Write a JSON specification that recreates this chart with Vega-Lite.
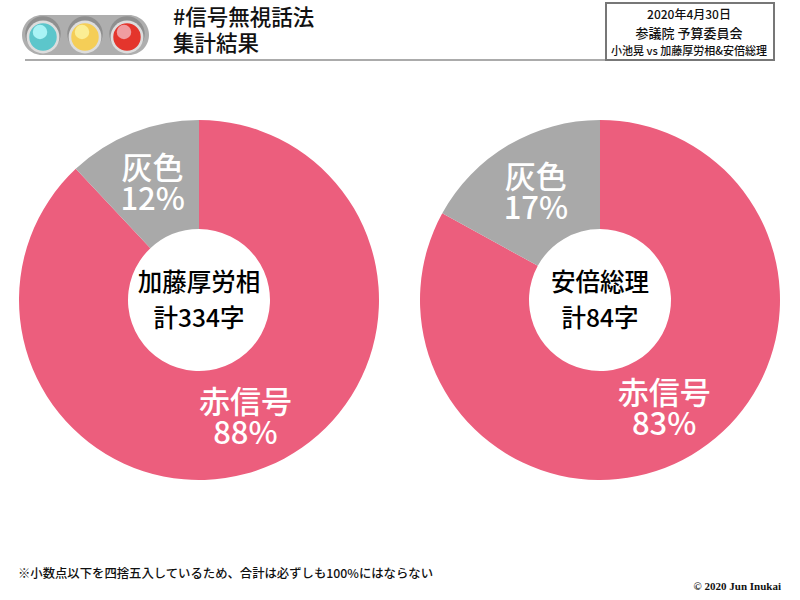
{
"$schema":"https://vega.github.io/schema/vega-lite/v6.json",
"padding":0,
"spacing":0,
"background":"white",
"config":{"view":{"stroke":null},"font":"Noto Sans CJK JP"},
"datasets":{
 "lights":[{"signal":"青","body":"#5CC6CB","shine":"#A9F3F5"},{"signal":"黄","body":"#F5CE57","shine":"#FBEE95"},{"signal":"赤","body":"#E4352C","shine":"#F09CA0"}],
 "title":[{"line":"#信号無視話法"},{"line":"集計結果"}],
 "box":[{"line":"2020年4月30日","size":"s"},{"line":"参議院 予算委員会","size":"m"},{"line":"小池晃 vs 加藤厚労相&安倍総理","size":"l"}],
 "notes":[{"kind":"note","text":"※小数点以下を四捨五入しているため、合計は必ずしも100%にはならない"},{"kind":"copy","text":"© 2020 Jun Inukai"}],
 "shares":[
  {"minister":"加藤厚労相","signal":"赤信号","share":88,"label":"赤信号\n88%"},
  {"minister":"加藤厚労相","signal":"灰色","share":12,"label":"灰色\n12%"},
  {"minister":"安倍総理","signal":"赤信号","share":83,"label":"赤信号\n83%"},
  {"minister":"安倍総理","signal":"灰色","share":17,"label":"灰色\n17%"}],
 "centers":[{"minister":"加藤厚労相","center":"加藤厚労相\n計334字"},{"minister":"安倍総理","center":"安倍総理\n計84字"}]
},
"vconcat":[
 {"width":800,"height":61,
  "resolve":{"scale":{"x":"independent","y":"independent","size":"independent","color":"independent"}},
  "layer":[
   {"data":{"values":[{"a":1}]},"mark":{"type":"rule","stroke":"#ABABAB","strokeWidth":2},
    "encoding":{"x":{"datum":25,"type":"quantitative","scale":{"domain":[0,800],"range":[0,800]},"axis":null},"x2":{"datum":606},"y":{"datum":60,"type":"quantitative","scale":{"domain":[0,61],"range":[0,61]},"axis":null}}},
   {"data":{"values":[{"a":1}]},"mark":{"type":"rect","fill":"white","stroke":"#777777","strokeWidth":2},
    "encoding":{"x":{"datum":606,"type":"quantitative","scale":{"domain":[0,800],"range":[0,800]},"axis":null},"x2":{"datum":774},"y":{"datum":3,"type":"quantitative","scale":{"domain":[0,61],"range":[0,61]},"axis":null},"y2":{"datum":60}}},
   {"data":{"values":[{"a":1}]},"mark":{"type":"rect","fill":"#AEAEAE","cornerRadius":20},
    "encoding":{"x":{"datum":22,"type":"quantitative","scale":{"domain":[0,800],"range":[0,800]},"axis":null},"x2":{"datum":149},"y":{"datum":15,"type":"quantitative","scale":{"domain":[0,61],"range":[0,61]},"axis":null},"y2":{"datum":55}}},
   {"data":{"name":"lights"},"mark":{"type":"circle","fill":"#8F8F8F","opacity":1,"size":1257},
    "encoding":{"x":{"field":"signal","type":"nominal","sort":null,"scale":{"type":"point","padding":0,"range":[43,127]},"axis":null},"y":{"datum":"c","type":"nominal","scale":{"type":"point","padding":0,"range":[34,34]},"axis":null}}},
   {"data":{"name":"lights"},"mark":{"type":"circle","fill":"#DDDDDD","opacity":1,"size":1075},
    "encoding":{"x":{"field":"signal","type":"nominal","sort":null,"scale":{"type":"point","padding":0,"range":[43,127]},"axis":null},"y":{"datum":"c","type":"nominal","scale":{"type":"point","padding":0,"range":[37,37]},"axis":null}}},
   {"data":{"name":"lights"},"mark":{"type":"circle","opacity":1,"size":755},
    "encoding":{"x":{"field":"signal","type":"nominal","sort":null,"scale":{"type":"point","padding":0,"range":[43,127]},"axis":null},"y":{"datum":"c","type":"nominal","scale":{"type":"point","padding":0,"range":[37,37]},"axis":null},"fill":{"field":"body","type":"nominal","scale":null}}},
   {"data":{"name":"lights"},"mark":{"type":"circle","opacity":1,"size":210,"xOffset":-3,"yOffset":-5},
    "encoding":{"x":{"field":"signal","type":"nominal","sort":null,"scale":{"type":"point","padding":0,"range":[43,127]},"axis":null},"y":{"datum":"c","type":"nominal","scale":{"type":"point","padding":0,"range":[37,37]},"axis":null},"fill":{"field":"shine","type":"nominal","scale":null}}},
   {"data":{"name":"title"},"mark":{"type":"text","align":"left","baseline":"middle","fontSize":21.5,"fontWeight":500,"fill":"#111111"},
    "encoding":{"text":{"field":"line"},"x":{"datum":"t","type":"nominal","scale":{"type":"point","padding":0,"range":[173,173]},"axis":null},"y":{"field":"line","type":"nominal","sort":null,"scale":{"type":"point","padding":0,"range":[19,45]},"axis":null}}},
   {"data":{"name":"box"},"mark":{"type":"text","align":"center","baseline":"middle","fontWeight":500,"fill":"#111111"},
    "encoding":{"text":{"field":"line"},"x":{"datum":"t","type":"nominal","scale":{"type":"point","padding":0,"range":[689,689]},"axis":null},"y":{"field":"line","type":"nominal","sort":null,"scale":{"type":"point","padding":0,"range":[15,52]},"axis":null},"size":{"field":"size","type":"ordinal","legend":null,"scale":{"type":"ordinal","domain":["s","m","l"],"range":[12,13,11]}}}}
  ]},
 {"hconcat":[
  {"width":398,"height":478,
   "layer":[
    {"data":{"name":"shares"},"transform":[{"filter":"datum.minister==='加藤厚労相'"}],
     "mark":{"type":"arc","outerRadius":180,"innerRadius":71},
     "encoding":{"theta":{"field":"share","type":"quantitative","stack":true},"order":{"field":"share","sort":"descending"},"color":{"field":"signal","type":"nominal","legend":null,"scale":{"domain":["赤信号","灰色"],"range":["#EC5E7D","#A9A9A9"]}}}},
    {"data":{"name":"shares"},"transform":[{"filter":"datum.minister==='加藤厚労相'"}],
     "mark":{"type":"text","radius":126,"fontSize":31,"fontWeight":500,"lineHeight":31,"lineBreak":"\n","fill":"white","align":"center","baseline":"middle","dy":-13},
     "encoding":{"theta":{"field":"share","type":"quantitative","stack":true},"order":{"field":"share","sort":"descending"},"text":{"field":"label"}}},
    {"data":{"name":"centers"},"transform":[{"filter":"datum.minister==='加藤厚労相'"}],
     "mark":{"type":"text","fontSize":24.5,"fontWeight":500,"lineHeight":36,"lineBreak":"\n","fill":"black","align":"center","baseline":"middle","dy":-16},
     "encoding":{"text":{"field":"center"}}}
   ]},
  {"width":398,"height":478,
   "layer":[
    {"data":{"name":"shares"},"transform":[{"filter":"datum.minister==='安倍総理'"}],
     "mark":{"type":"arc","outerRadius":180,"innerRadius":71},
     "encoding":{"theta":{"field":"share","type":"quantitative","stack":true},"order":{"field":"share","sort":"descending"},"color":{"field":"signal","type":"nominal","legend":null,"scale":{"domain":["赤信号","灰色"],"range":["#EC5E7D","#A9A9A9"]}}}},
    {"data":{"name":"shares"},"transform":[{"filter":"datum.minister==='安倍総理'"}],
     "mark":{"type":"text","radius":126,"fontSize":31,"fontWeight":500,"lineHeight":31,"lineBreak":"\n","fill":"white","align":"center","baseline":"middle","dy":-13},
     "encoding":{"theta":{"field":"share","type":"quantitative","stack":true},"order":{"field":"share","sort":"descending"},"text":{"field":"label"}}},
    {"data":{"name":"centers"},"transform":[{"filter":"datum.minister==='安倍総理'"}],
     "mark":{"type":"text","fontSize":24.5,"fontWeight":500,"lineHeight":36,"lineBreak":"\n","fill":"black","align":"center","baseline":"middle","dy":-16},
     "encoding":{"text":{"field":"center"}}}
   ]}
  ],"spacing":3,"resolve":{"scale":{"theta":"independent","color":"shared"}}},
 {"width":800,"height":61,
  "resolve":{"scale":{"x":"independent","y":"independent"}},
  "layer":[
   {"data":{"name":"notes"},"transform":[{"filter":"datum.kind==='note'"}],"mark":{"type":"text","align":"left","baseline":"middle","fontSize":12.35,"fontWeight":500,"fill":"#111111"},
    "encoding":{"text":{"field":"text"},"x":{"field":"kind","type":"nominal","scale":{"type":"point","padding":0,"range":[18,18]},"axis":null},"y":{"field":"kind","type":"nominal","scale":{"type":"point","padding":0,"range":[35,35]},"axis":null}}},
   {"data":{"name":"notes"},"transform":[{"filter":"datum.kind==='copy'"}],"mark":{"type":"text","align":"right","baseline":"middle","fontSize":11,"fontWeight":"bold","font":"Liberation Serif","fill":"#111111"},
    "encoding":{"text":{"field":"text"},"x":{"field":"kind","type":"nominal","scale":{"type":"point","padding":0,"range":[781,781]},"axis":null},"y":{"field":"kind","type":"nominal","scale":{"type":"point","padding":0,"range":[48,48]},"axis":null}}}
  ]}
]
}
